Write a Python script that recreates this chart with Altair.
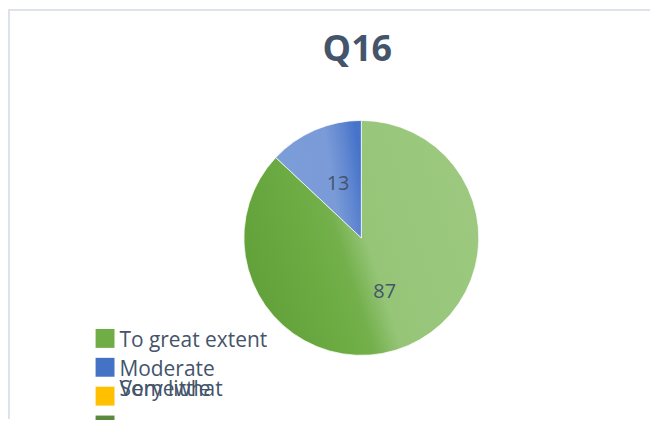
import altair as alt
import pandas as pd

# ---- data ----
categories = ["To great extent", "Moderate", "Somewhat", "Very little"]
values = [87, 13, 0, 0]

df = pd.DataFrame({"cat": categories, "value": values, "idx": list(range(len(categories)))})

# ---- style ----
TEXT = "#44546A"
FONT = "Open Sans"
CX, CY, R = 355, 230, 118
W, H = 645, 412
swatch_colors = ["#70AD47", "#4472C4", "#FFC000", "#5A8A3F"]

green_grad = alt.LinearGradient(
    gradient="linear",
    stops=[
        alt.GradientStop(color="#62A03A", offset=0),
        alt.GradientStop(color="#6CAC43", offset=0.3),
        alt.GradientStop(color="#74B04C", offset=0.41),
        alt.GradientStop(color="#96C578", offset=0.52),
        alt.GradientStop(color="#9CC97F", offset=1),
    ],
    x1=0, y1=0.66, x2=1, y2=0.34,
)
blue_grad = alt.LinearGradient(
    gradient="linear",
    stops=[
        alt.GradientStop(color="#7B9DD8", offset=0),
        alt.GradientStop(color="#7A9BD7", offset=0.65),
        alt.GradientStop(color="#5F86D0", offset=0.85),
        alt.GradientStop(color="#4674CA", offset=1),
    ],
    x1=0, y1=0.6, x2=1, y2=0.4,
)

base = alt.Chart(df)

theta = alt.Theta("value:Q", stack=True)
order = alt.Order("idx:Q")

green_arc = base.mark_arc(outerRadius=R, color=green_grad, stroke="white", strokeWidth=0.75).encode(
    theta=theta, order=order,
    x=alt.value(CX), y=alt.value(CY),
    opacity=alt.condition(alt.datum.cat == "To great extent", alt.value(1), alt.value(0)),
)
blue_arc = base.mark_arc(outerRadius=R, color=blue_grad, stroke="white", strokeWidth=0.75).encode(
    theta=theta, order=order,
    x=alt.value(CX), y=alt.value(CY),
    opacity=alt.condition(alt.datum.cat == "Moderate", alt.value(1), alt.value(0)),
)
labels = base.transform_filter(alt.datum.value > 0).mark_text(
    radius=59, fontSize=20, font=FONT, color=TEXT
).encode(
    theta=theta, order=order,
    x=alt.value(CX), y=alt.value(CY),
    text=alt.Text("value:Q"),
)

# ---- legend (drawn from the category table) ----
leg_y = alt.Scale(domain=[0, 3], range=[331, 418])
swatches = base.mark_square(size=361, opacity=1).encode(
    x=alt.value(97.5),
    y=alt.Y("idx:Q", scale=leg_y, axis=None),
    color=alt.Color("cat:N", scale=alt.Scale(domain=categories, range=swatch_colors), legend=None),
)
leg_text = base.transform_calculate(
    row="datum.idx < 2 ? datum.idx : 1.69"
).mark_text(
    align="left", baseline="alphabetic", dy=9, fontSize=21, font=FONT, color=TEXT
).encode(
    x=alt.value(112),
    y=alt.Y("row:Q", scale=leg_y, axis=None),
    text="cat:N",
)

border_top = base.mark_rule(color="#DDE1E9", strokeWidth=1.5).encode(
    x=alt.value(0), x2=alt.value(W), y=alt.value(0.75)
)
border_left = base.mark_rule(color="#DDE1E9", strokeWidth=1.5).encode(
    x=alt.value(0.75), y=alt.value(0), y2=alt.value(H)
)

chart = alt.layer(
    border_top, border_left, green_arc, blue_arc, labels, swatches, leg_text
).properties(
    width=W, height=H,
    autosize=alt.AutoSizeParams(type="none"),
    padding=0,
    title=alt.TitleParams(
        text="Q16", font=FONT, fontSize=36, fontWeight="bold", color=TEXT,
        anchor="middle", frame="group", offset=0, baseline="alphabetic",
        dx=CX - 4 - W / 2, dy=89,
    ),
).configure_view(stroke=None)

chart.save("out.html", embed_options={"renderer": "svg", "actions": False})
